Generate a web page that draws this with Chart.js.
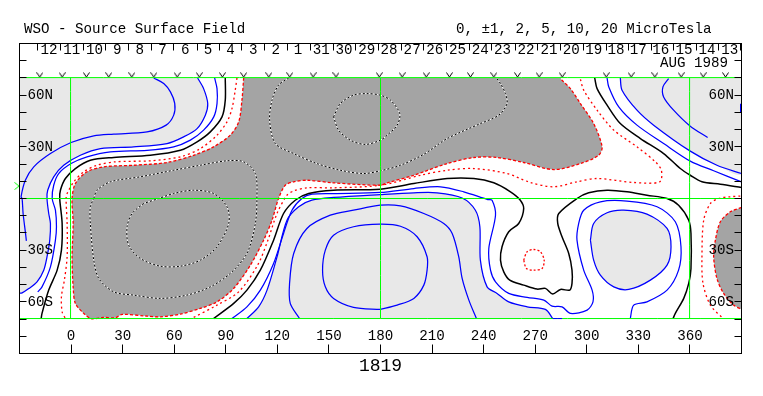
<!DOCTYPE html>
<html><head><meta charset="utf-8">
<style>html,body{margin:0;padding:0;background:#fff}canvas{display:block}</style>
<script src="https://cdn.jsdelivr.net/npm/chart.js@4/dist/chart.umd.min.js"></script>
</head><body><canvas id="c" width="763" height="396"></canvas>
<script>
const titleLeft = "WSO - Source Surface Field";
const titleRight = "0, \u00B11, 2, 5, 10, 20 MicroTesla";
const dateText = "AUG 1989";
const rotationText = "1819";
const lonTicks = [0,30,60,90,120,150,180,210,240,270,300,330,360];
const latTicks = [-80,-70,-60,-50,-40,-30,-20,-10,0,10,20,30,40,50,60,70,80];
const latLabels = {60:"60N",30:"30N","-30":"30S","-60":"60S"};
const dayLabels = ["12","11","10","9","8","7","6","5","4","3","2","1","31","30","29","28","27","26","25","24","23","22","21","20","19","18","17","16","15","14","13"];
const dayLons = [-12.8,0.4,13.6,26.8,40,53.2,66.4,79.6,92.7,106,119,132,145.6,158.8,172,185,198.4,211.6,224.8,238,251,264.7,278,291,304,317,330,343,356.6,370,383.2];
const dayMarks = [-19.4,-6.2,7,20.2,33.3,46.5,59.7,73.3,86.1,99.3,112.8,126.1,139.3,152.5,165.7,179,192,205.2,218.4,231.6,244.7,258.3,271.5,284.7,297.8,311.2,324.4,337.6,350.7,363.7,376.9,389.7];
const obsLons = [-18.2,-5.2,8.9,21.9,35.3,48.1,61.7,74.6,88,100.4,115,127.2,140.8,154.1,179.3,192.6,206.6,220.1,232.3,245.9,259.7,272.3,285.7,311.3,325.8,339.6,354.9,367.7,380.7];
const greenLons = [-0.3,180,359.8];
const greenLats = [-69.7,0,70.2];

const blueA = [[48.1,70],[53.9,66.8],[57.8,61.9],[60.3,55.2],[59.7,48.4],[55.3,42.6],[44.2,38.7],[24.8,37.4],[13.2,36.4],[0,32.5],[-12,26.1],[-21.7,18.4],[-26.6,10.6],[-29.1,1],[-28.5,0],[-27.9,-8.7],[-26.6,-19.4],[-26,-24.6]];
const blueB = [[73.6,70],[77.1,63.8],[79.5,55.1],[78.1,48.4],[73.3,40.6],[65.5,35.8],[55.8,31.9],[36.4,30],[17.1,29],[5.4,25.1],[-4.3,19.3],[-10.1,12.6],[-13.6,4.8],[-14,0],[-13,-8.7],[-12,-14.5],[-12.4,-24.2],[-14,-33.9],[-15.9,-41.6],[-19.8,-48.4],[-24.6,-52.3],[-28.5,-54.8],[-30,-55]];
const blueC = [[83.5,70],[84.9,63.8],[84.9,55.1],[83,47.4],[77.1,39.7],[69.4,33.9],[59.7,30],[44.2,28],[22.9,27.1],[9.3,24.2],[0,20.3],[-7.2,14.5],[-10.1,7.7],[-11,0],[-9.1,-6.8],[-8.5,-16.4],[-9.1,-24.2],[-12,-39.7],[-16.9,-51.3],[-19.4,-54.2]];
const blackD = [[89.7,70],[89.7,57.1],[87.8,47.4],[81,38.7],[73.3,32.9],[63.6,28],[46.1,25.1],[24.8,23.8],[11.2,22.2],[2.5,17.4],[-3.3,11.6],[-6.2,4.8],[-6.6,0],[-5.2,-14.5],[-5.6,-30],[-8.1,-41.6],[-13,-53.2],[-16.9,-66.7],[-17.4,-69.7]];
const redE = [[96.5,70],[95.5,62.9],[93.6,52.2],[90.7,44.5],[84.9,36.8],[75.2,29],[63.6,24.2],[46.1,21.9],[25.8,21.3],[15.1,19.3],[7.4,15.5],[1.6,9.7],[-2.3,2.9],[-2.9,0],[-2.3,-14.5],[-2.3,-33.9],[-3.9,-47.4],[-5.6,-57],[-5.2,-65.8],[-3.3,-69.7]];
const redF = [[100.4,70],[99.4,57.1],[97.5,44.5],[92.6,36.8],[82.9,30],[71.3,25.1],[55.8,20.9],[36.4,19.3],[19,18.4],[9.3,15.5],[2.5,8.7],[0.6,0],[1.2,-14.5],[0.6,-33.9],[1.2,-51.3],[2.5,-60.9],[7.4,-66.7],[11.6,-69.7],[19,-69.1],[25.8,-69.2],[29.7,-67.3],[44.2,-68.3],[51.9,-68.7],[63.6,-67.1],[75.2,-63.8],[84.9,-60],[94.6,-52.2],[104.3,-38.7],[112,-24.2],[116.9,-12.6],[120.7,0],[124.6,7.7],[129.5,9.7],[137.2,10.6],[152.7,9.1],[179.8,7.7],[183.9,9.1],[199.4,13.5],[218.8,20.3],[234.3,23.8],[247.8,23.8],[263.3,20.9],[280.8,16.8],[296.3,20.3],[306.9,25.1],[308.9,30],[304,43.5],[296.3,55.1],[290.5,63.8],[285.6,68.7],[284.7,70]];
const dashG1 = [[13.2,0],[15.1,4.8],[22.9,9.7],[40.3,12.6],[59.7,16.4],[75.2,19.3],[90.7,21.9],[100.4,21.3],[107.2,14.5],[108.1,0],[107.2,-14.5],[102.3,-31.9],[92.6,-43.5],[81,-51.3],[67.4,-56.1],[51.9,-58],[36.4,-56.1],[24.8,-54.2],[16.1,-46.4],[13.2,-35.8],[11.2,-14.5],[11.2,-4.8],[13.2,0]];
const dashG2 = [[42.2,-2.9],[35.5,-8.7],[32.6,-16.4],[33.5,-27.1],[40.3,-34.8],[51.9,-39.3],[63.6,-39.3],[75.2,-35.8],[84.9,-28],[91.7,-14.5],[90.7,-4.8],[82.9,2.9],[71.3,4.8],[59.7,2.9],[51,0],[42.2,-2.9]];
const dashG3 = [[126.6,70],[120.7,65.8],[116.9,57.1],[115.5,45.5],[118.8,31.9],[129.5,26.1],[143,20.3],[156.6,16.4],[170.2,14.5],[180,16.1],[191.6,19.3],[205.2,25.7],[218.8,34.8],[238.1,43.5],[248.8,48.4],[253.6,55.1],[252.7,60.9],[249.8,66.7],[247.4,70]];
const dashG4 = [[152.7,47.4],[156.6,55.1],[164.3,60],[172.1,60.9],[179.8,60],[185.8,57.1],[191.2,49.3],[189.7,42.6],[183.9,36.8],[180,33.9],[171.1,31.4],[162.4,33.9],[155.6,39.7],[152.7,47.4]];
const darkRight = [[390,-5.2],[383.5,-7.7],[377.7,-13.5],[374.8,-24.2],[373.8,-33.8],[375.7,-46.4],[379.6,-55.1],[385.4,-61.9],[390,-64.4]];
const redRight = [[389.3,1.4],[383.5,1],[376.7,0],[371.9,-2.9],[368,-12.6],[367,-33.8],[367.6,-49.3],[371.9,-61.9],[379.2,-69.6]];
const redCircle = [[263.3,-35.8],[265.3,-30.9],[269.1,-29.6],[273,-30.9],[275.2,-35.8],[274,-40.6],[269.1,-41.6],[264.9,-40.6],[263.3,-35.8]];
const blackH = [[82.9,-69.7],[94.6,-60.9],[102.3,-53.2],[110.1,-41.6],[117.8,-24.2],[123.6,-8.7],[130.4,-1],[138.2,2.9],[152.7,4.8],[179.8,5.4],[199.4,8.7],[218.8,11.6],[234.3,11.6],[245.9,9.1],[255.6,3.9],[261,-0.6],[263.3,-5.8],[260.4,-14.5],[254.6,-19.3],[250.7,-28],[249.8,-35.8],[251.7,-42.6],[255.2,-47.4],[263.3,-50.3],[271.1,-52.6],[275.9,-52.2],[280.2,-55.5],[284.7,-52.8],[290.1,-53.2],[291.4,-49.3],[291.4,-41.6],[289.5,-31.9],[285.6,-22.2],[283.1,-14.5],[283.7,-8.7],[294.3,0],[301.1,3.3],[311.8,4.8],[323.4,3.9],[335,1.9],[346.7,0],[353.4,-3.9],[359.3,-12.6],[360.6,-20.3],[360.6,-40.8],[359.3,-49.3],[356.4,-58],[351.5,-66.7],[350.2,-69.7]];
const blackI = [[304.6,70],[306,63.8],[311.8,54.2],[319.5,43.5],[331.2,34.8],[344.7,26.1],[354.4,17.4],[360.2,13.5],[367,9.7],[377.7,8.3],[390,6.4]];
const blueK = [[319.5,70],[320.5,62.9],[329.2,51.3],[338.9,42.6],[360.2,27.5],[375.7,19.3],[390,14.5]];
const blueJ = [[311.8,70],[312.8,64.8],[318.6,53.2],[329.2,42.6],[344.7,31.9],[360.2,21.7],[373.8,16.1],[390,9.7]];
const blueL = [[347.6,69.6],[344.3,64.8],[344.7,59],[350.5,51.3],[360.2,42],[370.3,35.4]];
const redM = [[296.3,69.2],[298.2,62.9],[306,51.3],[315.7,39.7],[329.2,30],[339.9,21.3],[343.4,16.4],[342.4,9.7],[327.3,9.3],[306,11.6],[294.3,9.7],[280.8,6.8],[267.2,9.3],[253.6,14.5],[234.3,17.4],[218.8,16.4],[203.3,13.5],[180,7.7],[152.7,6.2],[137.2,6.2],[129.5,4.4],[125.6,1.9],[119.8,-8.7],[114.5,-24.2],[108.5,-38.7],[97.5,-54.2],[84.9,-61.9],[70.3,-69.6]];
const blueN = [[93.6,-69.7],[102.3,-62.9],[110.1,-53.2],[117.8,-37.7],[123.6,-20.3],[128.5,-6.8],[134.3,0],[140.1,2.5],[152.7,2.9],[179.8,3.5],[199.4,5.8],[214.9,6.8],[228.4,3.9],[242.4,-0.6],[244.9,-1],[246.9,-9.7],[243,-29],[244,-41.6],[246.9,-48.4],[254.6,-55.1],[265.3,-57.4],[275,-59],[279.8,-62.5],[285.6,-62.9],[290.5,-66.7],[300.2,-64.8],[303.6,-60],[303.1,-53.2],[298.2,-41.6],[294.3,-24.2],[295.3,-14.5],[298.2,-6.8],[307.9,-1.9],[323.4,-1.5],[340.9,-4.8],[351.5,-13.5],[354.8,-28],[353.4,-41.6],[346.7,-53.2],[335,-60],[327.3,-61.9],[325.3,-69.7]];
const blueO = [[102.3,-69.7],[109.1,-62.9],[114,-53.2],[119.8,-33.9],[125.6,-12.6],[132.4,-4.8],[140.1,-1],[152.7,0.6],[179.8,2.3],[199.4,3.3],[212.9,3.3],[227.5,0.3],[235.2,-6.8],[237.8,-16.4],[238.1,-35.8],[242,-51.3],[247.8,-55.1],[254.6,-60],[265.3,-62.9],[275.9,-64.4],[280.2,-69.7]];
const blueP = [[132.9,-69.7],[127.5,-60.9],[127.1,-49.3],[129.5,-31.9],[137.2,-17.4],[150.8,-9.7],[164.3,-6.8],[179.8,-3.9],[191.6,-4.3],[205.2,-8.7],[216.8,-14.5],[221.7,-20.3],[225.5,-33.8],[227.5,-46.4],[231.4,-59],[235.8,-69.7]];
const blueQ = [[179.8,-64.4],[164.3,-63.2],[152.7,-58],[147.9,-51.3],[146.3,-41.6],[147.9,-30],[152.7,-21.3],[164.3,-16.4],[179.8,-14.9],[191.6,-16.1],[201.3,-22.2],[207.1,-33.8],[207.1,-41.6],[205.2,-50.3],[199.4,-58],[189.7,-61.9],[179.8,-64.4]];
const blueS = [[302.1,-24.2],[304,-14.5],[311.8,-8.3],[321.5,-6.8],[335,-9.1],[346.7,-17.4],[349,-28],[346.7,-38.7],[337,-47.4],[324.4,-52.8],[315.7,-51.3],[307.9,-44.5],[304,-35.8],[302.1,-24.2]];
const blueEdge = [[389.6,55],[389.6,49.7]];
const blueBottom = [[280.2,-69.7],[285.6,-69.7]];
const lightCornersLeft = [[-30,-55],[-30,70]];
const lightCornersRight = [[390,70]];
const equatorMark = [[-31.4,7.2]];
const obsLat = 71.7;

const BLUE="#0000ff",RED="#ff0000",BLACK="#000000",GREEN="#00ff00",DARK="#a4a4a4",LIGHT="#e8e8e8",MONO="'Liberation Mono', monospace";
const pts = a => a.map(p => ({x:p[0],y:p[1]}));
const stroke = (a,color,width,dash,extra) => Object.assign({data:pts(a),showLine:true,borderColor:color,borderWidth:width,borderDash:dash||[],pointRadius:0,tension:0.3,fill:false},extra||{});
const area = (a,color) => ({data:pts(a),showLine:true,borderWidth:0,borderColor:"transparent",backgroundColor:color,fill:"shape",pointRadius:0,tension:0.3});

function glyph(w,h,color,draw){const c=document.createElement("canvas");c.width=w;c.height=h;const g=c.getContext("2d");g.strokeStyle=color;g.lineWidth=1;g.beginPath();draw(g);g.stroke();return c;}
const vGlyph = glyph(7,6,BLACK,g=>{g.moveTo(0.5,0.5);g.lineTo(3.5,5);g.lineTo(6.5,0.5);});
const chevron = glyph(6,8,GREEN,g=>{g.moveTo(0.5,0.5);g.lineTo(5,4);g.lineTo(0.5,7.5);});

const greenSets = greenLons.map(v=>stroke([[v,-69.7],[v,70.2]],GREEN,1))
  .concat(greenLats.map(v=>stroke([[-30,v],[390,v]],GREEN,1)));
const datasets = [
  stroke(blueBottom,BLUE,1),
  stroke(blueEdge,BLUE,1.6),
  {data:equatorMark.map(p=>({x:p[0],y:p[1]})),pointStyle:chevron,pointRadius:4,showLine:false,clip:false},
  {data:obsLons.map(v=>({x:v,y:obsLat})),pointStyle:vGlyph,pointRadius:3,showLine:false,clip:false},
  ...greenSets,
  stroke(dashG1,BLACK,1,[2,2]),stroke(dashG1,"#fff",1),
  stroke(dashG2,BLACK,1,[2,2]),stroke(dashG2,"#fff",1),
  stroke(dashG3,BLACK,1,[2,2]),stroke(dashG3,"#fff",1),
  stroke(dashG4,BLACK,1,[2,2]),stroke(dashG4,"#fff",1),
  stroke(blackD,BLACK,1.5),stroke(blackH,BLACK,1.5),stroke(blackI,BLACK,1.5),
  stroke(redF,RED,1.3,[3,2]),stroke(darkRight,RED,1.3,[3,2]),stroke(redE,RED,1.3,[2,3]),stroke(redM,RED,1.3,[2,3]),
  stroke(redRight,RED,1.3,[2,3]),stroke(redCircle,RED,1.3,[2,2]),
  stroke(blueA,BLUE,1.25),stroke(blueB,BLUE,1.25),stroke(blueC,BLUE,1.25),
  stroke(blueJ,BLUE,1.25),stroke(blueK,BLUE,1.25),stroke(blueL,BLUE,1.25),
  stroke(blueN,BLUE,1.25),stroke(blueO,BLUE,1.25),stroke(blueP,BLUE,1.25),stroke(blueQ,BLUE,1.25),stroke(blueS,BLUE,1.25),
  area(redF,DARK),area(darkRight,DARK),
  area(blueS,LIGHT),area(blueO,LIGHT),
  area(blueK.concat(lightCornersRight),LIGHT),
  area(blueB.concat(lightCornersLeft),LIGHT)
];

const tickFont={family:MONO,size:14.2};
const setTicks = list => s => { s.ticks = list.map(v=>({value:v})); };
const texts = {id:"texts",afterDraw(chart){
  const c=chart.ctx;c.save();c.fillStyle=BLACK;c.font="14.2px "+MONO;c.textBaseline="alphabetic";
  c.textAlign="left";c.fillText(titleLeft,24,33);c.fillText(titleRight,456,33);
  c.textAlign="right";c.fillText(dateText,728,67);
  c.restore();
}};
const frame = {display:true,color:BLACK,width:1,z:1};
new Chart(document.getElementById("c"),{
  type:"scatter",
  data:{datasets},
  plugins:[texts],
  options:{
    responsive:false,animation:false,events:[],
    layout:{padding:{left:19.5,right:21.5,top:43.5,bottom:0}},
    plugins:{legend:{display:false},tooltip:{enabled:false},title:{display:false}},
    scales:{
      x:{type:"linear",position:"bottom",min:-30,max:390,
        afterBuildTicks:setTicks(lonTicks),afterFit:s=>{s.height=42.5;},
        border:frame,
        grid:{z:1,drawOnChartArea:false,drawTicks:true,tickLength:-9,color:BLACK,tickColor:BLACK},
        ticks:{z:1,mirror:true,padding:8.7,font:tickFont,color:BLACK,autoSkip:false,maxRotation:0,minRotation:0,callback:v=>String(v)},
        title:{display:true,text:rotationText,color:BLACK,font:{family:MONO,size:18},padding:{top:0,bottom:19}}},
      xTop:{type:"linear",position:"top",min:-30,max:390,
        afterBuildTicks:setTicks(dayMarks.concat(dayLons)),afterFit:s=>{s.height=0;},
        border:frame,
        grid:{z:1,drawOnChartArea:false,drawTicks:true,tickLength:-7,color:BLACK,
          tickColor:ctx=>ctx.index<dayMarks.length?BLACK:"transparent"},
        ticks:{z:1,mirror:true,padding:0,font:{family:MONO,size:14.2,lineHeight:1},color:BLACK,autoSkip:false,maxRotation:0,minRotation:0,
          callback:(v,i)=>i<dayMarks.length?"":dayLabels[i-dayMarks.length]}},
      y:{type:"linear",position:"left",min:-90,max:90,
        afterBuildTicks:setTicks(latTicks),afterFit:s=>{s.width=0;},
        border:frame,
        grid:{z:1,drawOnChartArea:false,drawTicks:true,tickLength:-7,color:BLACK,tickColor:BLACK},
        ticks:{z:1,mirror:true,padding:8,font:tickFont,color:BLACK,autoSkip:false,callback:v=>latLabels[v]||""}},
      yRight:{type:"linear",position:"right",min:-90,max:90,
        afterBuildTicks:setTicks(latTicks),afterFit:s=>{s.width=0;},
        border:frame,
        grid:{z:1,drawOnChartArea:false,drawTicks:true,tickLength:-7,color:BLACK,tickColor:BLACK},
        ticks:{z:1,mirror:true,padding:-7.5,font:tickFont,color:BLACK,autoSkip:false,callback:v=>latLabels[v]||""}}
    }
  }
});
</script></body></html>
